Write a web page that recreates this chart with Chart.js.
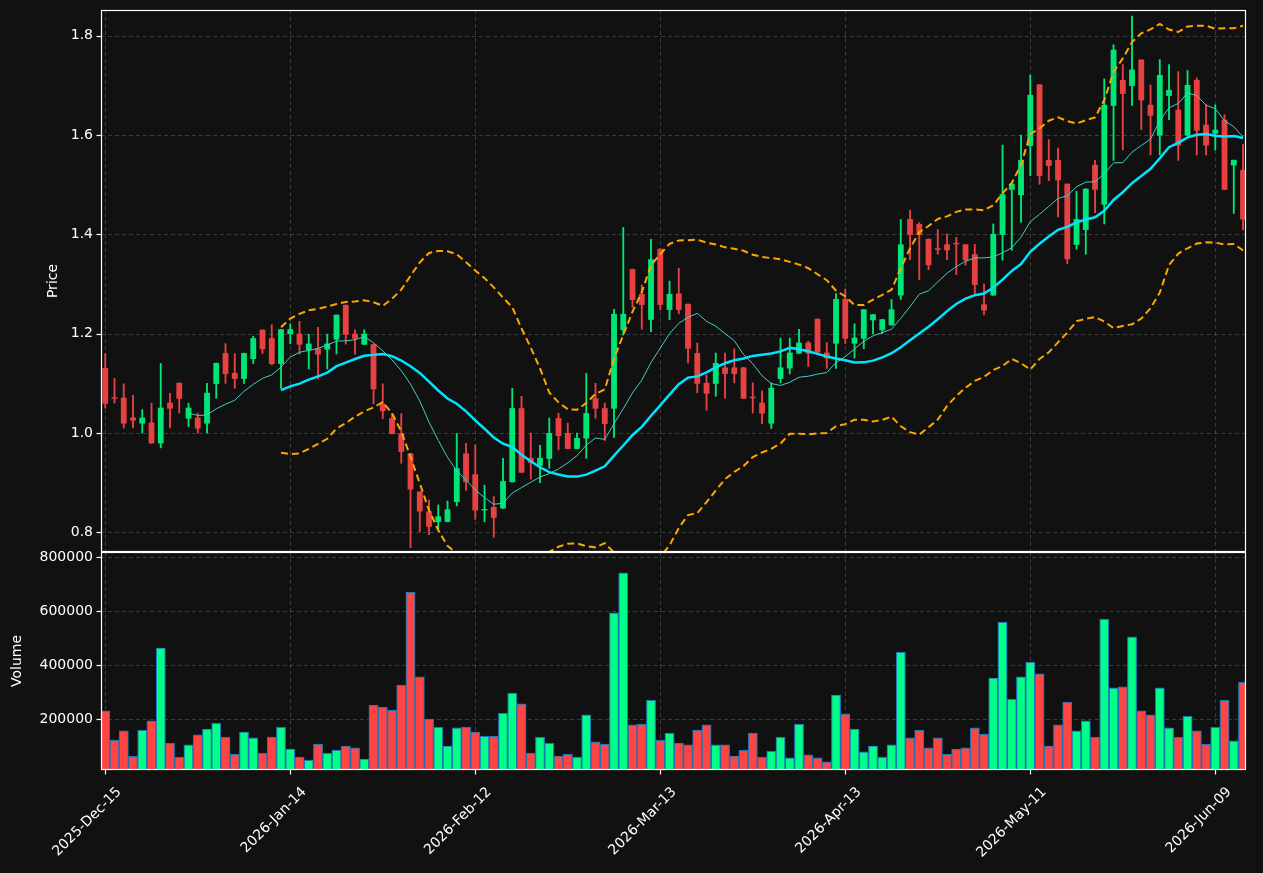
<!DOCTYPE html>
<html><head><meta charset="utf-8">
<script src="https://cdn.jsdelivr.net/npm/chart.js@4.4.1/dist/chart.umd.min.js"></script>
<style>html,body{margin:0;padding:0;background:#111111;overflow:hidden}#wrap{width:1263px;height:873px}</style>
</head><body><div id="wrap"><canvas id="c" width="1263" height="873"></canvas></div>
<script>
// ---- data ----
const tickIndex = [0, 20, 40, 60, 80, 100, 120];
const tickLabels = ['2025-Dec-15','2026-Jan-14','2026-Feb-12','2026-Mar-13','2026-Apr-13','2026-May-11','2026-Jun-09'];
const priceTicks = [0.8, 1.0, 1.2, 1.4, 1.6, 1.8];
const volumeTicks = [200000, 400000, 600000, 800000];

const openP = [1.131,1.071,1.071,1.031,1.019,1.021,0.979,1.061,1.101,1.029,
 1.031,1.019,1.099,1.161,1.121,1.109,1.149,1.208,1.191,1.139,
 1.199,1.200,1.167,1.170,1.168,1.188,1.258,1.200,1.178,1.179,
 1.059,1.030,0.999,0.959,0.882,0.842,0.821,0.821,0.861,0.959,
 0.917,0.844,0.851,0.848,0.901,1.050,0.950,0.934,0.948,1.030,
 1.000,0.968,0.989,1.070,1.050,1.049,1.207,1.330,1.280,1.228,
 1.371,1.248,1.281,1.260,1.161,1.101,1.099,1.132,1.132,1.132,
 1.072,1.061,1.019,1.109,1.130,1.160,1.182,1.230,1.162,1.180,
 1.270,1.180,1.190,1.227,1.207,1.217,1.277,1.431,1.421,1.391,
 1.370,1.380,1.381,1.380,1.360,1.259,1.277,1.399,1.490,1.479,
 1.578,1.702,1.550,1.550,1.502,1.379,1.409,1.540,1.460,1.659,
 1.711,1.699,1.752,1.661,1.599,1.679,1.651,1.599,1.711,1.621,
 1.603,1.631,1.539,1.530];
const highP = [1.160,1.110,1.099,1.076,1.047,1.060,1.140,1.080,1.101,1.060,
 1.040,1.100,1.141,1.180,1.160,1.161,1.195,1.208,1.218,1.209,
 1.220,1.225,1.199,1.213,1.199,1.238,1.258,1.208,1.208,1.179,
 1.099,1.039,1.039,0.959,0.882,0.865,0.855,0.863,0.999,0.979,
 0.976,0.895,0.872,0.949,1.090,1.074,1.000,0.975,1.030,1.040,
 1.020,1.000,1.120,1.100,1.060,1.249,1.414,1.330,1.298,1.390,
 1.371,1.306,1.332,1.260,1.181,1.117,1.161,1.161,1.170,1.132,
 1.101,1.085,1.101,1.191,1.191,1.209,1.185,1.230,1.182,1.281,
 1.290,1.220,1.249,1.239,1.229,1.269,1.430,1.449,1.424,1.391,
 1.410,1.401,1.394,1.380,1.380,1.300,1.421,1.580,1.502,1.600,
 1.721,1.702,1.591,1.574,1.502,1.487,1.492,1.549,1.713,1.782,
 1.742,1.840,1.752,1.701,1.752,1.742,1.728,1.730,1.715,1.661,
 1.661,1.641,1.550,1.581];
const lowP = [1.050,1.060,1.010,1.010,1.000,0.979,0.970,1.010,1.040,1.013,
 1.000,1.000,1.070,1.100,1.090,1.100,1.140,1.160,1.137,1.090,
 1.180,1.159,1.129,1.109,1.129,1.159,1.179,1.159,1.178,1.059,
 1.029,0.998,0.939,0.769,0.801,0.795,0.806,0.821,0.853,0.885,
 0.826,0.821,0.790,0.848,0.901,0.920,0.907,0.900,0.929,0.966,
 0.968,0.968,0.949,1.030,0.985,0.991,1.197,1.253,1.209,1.204,
 1.248,1.228,1.240,1.141,1.081,1.046,1.074,1.070,1.101,1.069,
 1.040,1.019,1.009,1.101,1.119,1.160,1.134,1.162,1.130,1.130,
 1.180,1.151,1.170,1.200,1.200,1.217,1.269,1.349,1.309,1.329,
 1.360,1.349,1.319,1.338,1.281,1.238,1.277,1.348,1.368,1.424,
 1.518,1.501,1.508,1.435,1.341,1.370,1.360,1.444,1.421,1.549,
 1.570,1.660,1.611,1.560,1.560,1.631,1.549,1.599,1.560,1.560,
 1.570,1.490,1.442,1.409];
const closeP = [1.059,1.069,1.019,1.025,1.031,0.979,1.051,1.049,1.069,1.051,
 1.009,1.081,1.141,1.119,1.109,1.161,1.191,1.169,1.139,1.209,
 1.209,1.178,1.180,1.158,1.180,1.238,1.198,1.190,1.200,1.088,
 1.044,0.998,0.962,0.886,0.842,0.811,0.832,0.846,0.929,0.901,
 0.844,0.846,0.829,0.903,1.050,0.920,0.940,0.950,1.000,0.994,
 0.968,0.990,1.040,1.049,1.018,1.240,1.240,1.268,1.258,1.350,
 1.258,1.280,1.248,1.170,1.099,1.079,1.141,1.119,1.119,1.069,
 1.070,1.039,1.091,1.132,1.162,1.182,1.160,1.162,1.150,1.270,
 1.190,1.192,1.249,1.239,1.229,1.249,1.380,1.399,1.399,1.338,
 1.369,1.368,1.380,1.348,1.298,1.247,1.401,1.481,1.502,1.550,
 1.681,1.518,1.538,1.509,1.350,1.431,1.492,1.490,1.661,1.772,
 1.683,1.732,1.670,1.639,1.721,1.691,1.579,1.701,1.609,1.579,
 1.611,1.490,1.550,1.430];
const volume = [230000,122000,156000,62000,159000,193000,463000,111000,59000,104000,
 141000,163000,185000,133000,70000,152000,130000,74000,133000,170000,
 89000,59000,48000,107000,74000,85000,100000,93000,52000,252000,
 244000,233000,326000,670000,356000,200000,170000,100000,167000,170000,
 152000,137000,137000,222000,296000,256000,74000,133000,111000,63000,
 70000,59000,215000,115000,107000,593000,741000,178000,181000,270000,
 122000,148000,111000,104000,159000,178000,104000,104000,63000,85000,
 148000,59000,81000,133000,56000,181000,67000,56000,41000,289000,
 219000,163000,78000,100000,59000,104000,448000,130000,159000,93000,
 130000,70000,89000,93000,167000,144000,352000,559000,274000,356000,
 411000,367000,100000,178000,263000,156000,193000,133000,570000,315000,
 319000,504000,230000,215000,315000,167000,133000,211000,156000,107000,
 170000,270000,119000,337000];

// ---- indicators derived from closes ----
function sma(arr, n) {
  return arr.map((_, i) => i < n - 1 ? null : arr.slice(i - n + 1, i + 1).reduce((a, b) => a + b, 0) / n);
}
function bands(arr, n, k, sign) {
  const m = sma(arr, n);
  return arr.map((_, i) => {
    if (m[i] === null) return null;
    const w = arr.slice(i - n + 1, i + 1);
    const sd = Math.sqrt(w.reduce((a, b) => a + (b - m[i]) * (b - m[i]), 0) / n);
    return m[i] + sign * k * sd;
  });
}
const ma10 = sma(closeP, 10);
const ma20 = sma(closeP, 20);
const bbUp = bands(closeP, 20, 2, 1);
const bbLo = bands(closeP, 20, 2, -1);

const isUp = closeP.map((c, i) => c >= openP[i]);
const candleCol = isUp.map(u => u ? '#00e676' : '#e84142');
const volCol = isUp.map(u => u ? '#00ff88' : '#ff4444');
const xy = (arr) => arr.map((v, i) => ({x: i, y: v}));

const FONT = {family: 'DejaVu Sans', size: 14};

const panelPlugin = {
  id: 'panels',
  beforeDatasetsDraw(chart) {
    const {ctx, chartArea: a, scales} = chart;
    ctx.save();
    ctx.strokeStyle = 'rgba(128,128,128,0.38)';
    ctx.lineWidth = 1;
    ctx.setLineDash([4, 3]);
    for (const p of [scales.y, scales.yv]) {
      for (const t of p.ticks) {
        const y = Math.round(p.getPixelForValue(t.value)) + 0.5;
        ctx.beginPath(); ctx.moveTo(a.left, y); ctx.lineTo(a.right, y); ctx.stroke();
      }
      for (const v of tickIndex) {
        const x = Math.round(scales.x.getPixelForValue(v)) + 0.5;
        ctx.beginPath(); ctx.moveTo(x, p.top); ctx.lineTo(x, p.bottom); ctx.stroke();
      }
    }
    ctx.restore();
  },
  afterDatasetsDraw(chart) {
    const {ctx, chartArea: a, scales} = chart;
    ctx.save();
    ctx.strokeStyle = '#ffffff';
    ctx.lineWidth = 1.2;
    ctx.setLineDash([]);
    for (const p of [scales.y, scales.yv]) {
      ctx.strokeRect(a.left + 0.5, p.top + 0.5, a.right - a.left - 1, p.bottom - p.top - 1);
      for (const t of p.ticks) {
        const y = Math.round(p.getPixelForValue(t.value)) + 0.5;
        ctx.beginPath(); ctx.moveTo(a.left - 4.5, y); ctx.lineTo(a.left, y); ctx.stroke();
      }
    }
    for (const v of tickIndex) {
      const x = Math.round(scales.x.getPixelForValue(v)) + 0.5;
      ctx.beginPath(); ctx.moveTo(x, a.bottom); ctx.lineTo(x, a.bottom + 4.5); ctx.stroke();
    }
    ctx.restore();
  }
};

Chart.defaults.font.family = 'DejaVu Sans';
Chart.defaults.font.size = 14;
Chart.defaults.color = '#ffffff';

const noPad = s => { s.paddingTop = 0; s.paddingBottom = 0; s.paddingLeft = 0; s.paddingRight = 0; };

new Chart(document.getElementById('c'), {
  type: 'bar',
  data: {
    datasets: [
      {type: 'line', label: 'MA10', data: xy(ma10), yAxisID: 'y', borderColor: '#3fd0c4', borderWidth: 1, pointRadius: 0, order: 1},
      {type: 'line', label: 'MA20', data: xy(ma20), yAxisID: 'y', borderColor: '#00e5ff', borderWidth: 2.5, pointRadius: 0, order: 1},
      {type: 'line', label: 'BB upper', data: xy(bbUp), yAxisID: 'y', borderColor: '#ffa500', borderWidth: 2, borderDash: [7, 4], pointRadius: 0, order: 1},
      {type: 'line', label: 'BB lower', data: xy(bbLo), yAxisID: 'y', borderColor: '#ffa500', borderWidth: 2, borderDash: [7, 4], pointRadius: 0, order: 1},
      {label: 'body', data: openP.map((o, i) => ({x: i, y: [o, closeP[i]]})), yAxisID: 'y', backgroundColor: candleCol, grouped: false, barPercentage: 0.63, categoryPercentage: 1, minBarLength: 1.5, order: 2},
      {label: 'wick', data: lowP.map((l, i) => ({x: i, y: [l, highP[i]]})), yAxisID: 'y', backgroundColor: candleCol, grouped: false, barThickness: 1.2, order: 3},
      {label: 'volume', data: xy(volume), yAxisID: 'yv', backgroundColor: volCol, borderColor: '#1f77b4', borderWidth: 1.2, grouped: false, barPercentage: 1, categoryPercentage: 1, order: 4}
    ]
  },
  options: {
    responsive: false,
    animation: false,
    events: [],
    layout: {padding: {left: 0, right: 17, top: 10, bottom: 0}},
    plugins: {legend: {display: false}, tooltip: {enabled: false}},
    scales: {
      x: {
        type: 'linear', position: 'bottom', min: -0.46, max: 123.32, offset: false,
        afterBuildTicks: s => { s.ticks = tickIndex.map(v => ({value: v})); },
        afterFit: s => { s.height = 103; noPad(s); },
        grid: {display: false, drawTicks: false, offset: false},
        border: {display: false},
        ticks: {color: '#ffffff', font: FONT, minRotation: 45, maxRotation: 45, padding: 14, labelOffset: 14, autoSkip: false,
                callback: v => tickLabels[tickIndex.indexOf(v)] ?? ''}
      },
      yv: {
        type: 'linear', position: 'left', stack: 'panels', stackWeight: 218, weight: 0,
        min: 11111, max: 818500,
        afterBuildTicks: s => { s.ticks = volumeTicks.map(v => ({value: v})); },
        afterFit: s => { s.width = 101; noPad(s); },
        grid: {display: false, drawTicks: false},
        border: {display: false},
        ticks: {color: '#ffffff', font: FONT, padding: 8, callback: v => String(v)},
        title: {display: true, text: 'Volume', color: '#ffffff', font: FONT, padding: {top: 9, bottom: 0}}
      },
      y: {
        type: 'linear', position: 'left', stack: 'panels', stackWeight: 542, weight: 1,
        min: 0.7603, max: 1.852,
        afterBuildTicks: s => { s.ticks = priceTicks.map(v => ({value: v})); },
        afterFit: s => { s.width = 101; noPad(s); },
        grid: {display: false, drawTicks: false},
        border: {display: false},
        ticks: {color: '#ffffff', font: FONT, padding: 8, callback: v => v.toFixed(1)},
        title: {display: true, text: 'Price', color: '#ffffff', font: FONT, padding: {top: 45, bottom: 0}}
      }
    }
  },
  plugins: [panelPlugin]
});
</script>
</body></html>
